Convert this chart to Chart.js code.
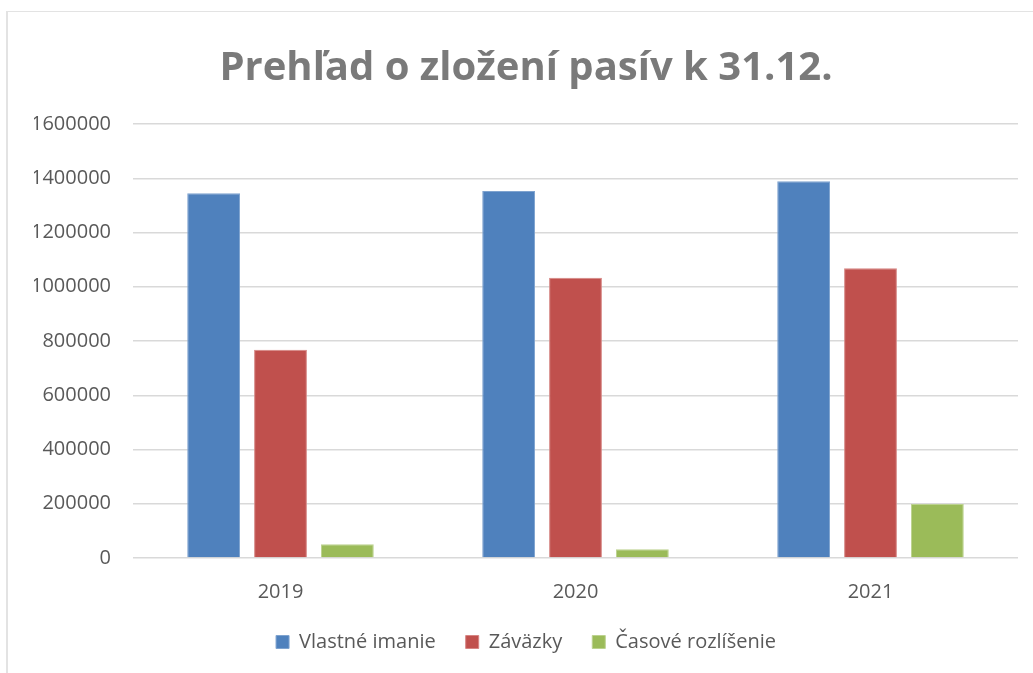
<!DOCTYPE html>
<html>
<head>
<meta charset="utf-8">
<script src="https://cdn.jsdelivr.net/npm/chart.js@4"></script>
<style>
  html, body { margin: 0; padding: 0; background: #fff; }
  #frame {
    position: absolute; left: 6px; top: 11px; width: 1100px; height: 700px;
    border-left: 2px solid #e3e3e3; border-top: 1px solid #e3e3e3;
  }
  #wrap { position: absolute; left: 0; top: 0; width: 1033px; height: 673px; }
</style>
</head>
<body>
<div id="frame"></div>
<div id="wrap"><canvas id="pasivaChart"></canvas></div>
<script>
// data
const years = ['2019', '2020', '2021'];
const vlastneImanie = [1345000, 1353000, 1389000];
const zavazky = [768000, 1033000, 1068000];
const casoveRozlisenie = [51000, 32000, 199000];
const yTicks = [0, 200000, 400000, 600000, 800000, 1000000, 1200000, 1400000, 1600000];

const tickFont = { family: "'Open Sans', sans-serif", size: 20 };

const data = {
    labels: years,
    datasets: [
        {
        label: 'Vlastné imanie',
        backgroundColor: '#4F81BD',
        borderColor: '#7fa3cf',
        borderWidth: 1,
        data: vlastneImanie,
        },
        {
        label: 'Záväzky',
        backgroundColor: '#C0504D',
        borderColor: '#d68583',
        borderWidth: 1,
        data: zavazky,
        },
        {
        label: 'Časové rozlíšenie',
        backgroundColor: '#9BBB59',
        borderColor: '#bcd28f',
        borderWidth: 1,
        data: casoveRozlisenie,
        }
    ],
};

const config = {
    type: 'bar',
    data: data,
    options: {
        animation: false,
        responsive: true,
        maintainAspectRatio: false,
        categoryPercentage: 0.68,
        barPercentage: 0.79,
        layout: {
            padding: { left: 34, right: 15, top: 45, bottom: 11 }
        },
        plugins: {
            title: {
                display: true,
                text: 'Prehľad o zložení pasív k 31.12.',
                color: '#7a7a7a',
                font: { family: "'Open Sans', sans-serif", size: 40, weight: 'bold' },
                padding: { top: 0, bottom: 31 }
            },
            legend: {
                position: 'bottom',
                labels: {
                    color: '#595959',
                    font: tickFont,
                    boxWidth: 13,
                    boxHeight: 13,
                    padding: 30
                }
            },
            tooltip: { enabled: false }
        },
        scales: {
            x: {
                grid: { display: false },
                border: { display: false },
                ticks: { color: '#595959', font: tickFont, padding: 14 },
                // labels keep their place, the box only gets shorter
                afterFit: (scale) => { scale.height = 44; }
            },
            y: {
                min: 0,
                max: 1600000,
                afterBuildTicks: (axis) => { axis.ticks = yTicks.map(v => ({ value: v })); },
                afterFit: (scale) => { scale.width = 99; },
                grid: { color: '#d9d9d9', lineWidth: 1.5, drawTicks: false },
                border: { display: false },
                ticks: {
                    color: '#595959',
                    font: tickFont,
                    padding: 22,
                    callback: (v) => String(v)
                }
            }
        }
    }
};

const pasivaChart = new Chart(
    document.getElementById('pasivaChart'),
    config
);
</script>
</body>
</html>
